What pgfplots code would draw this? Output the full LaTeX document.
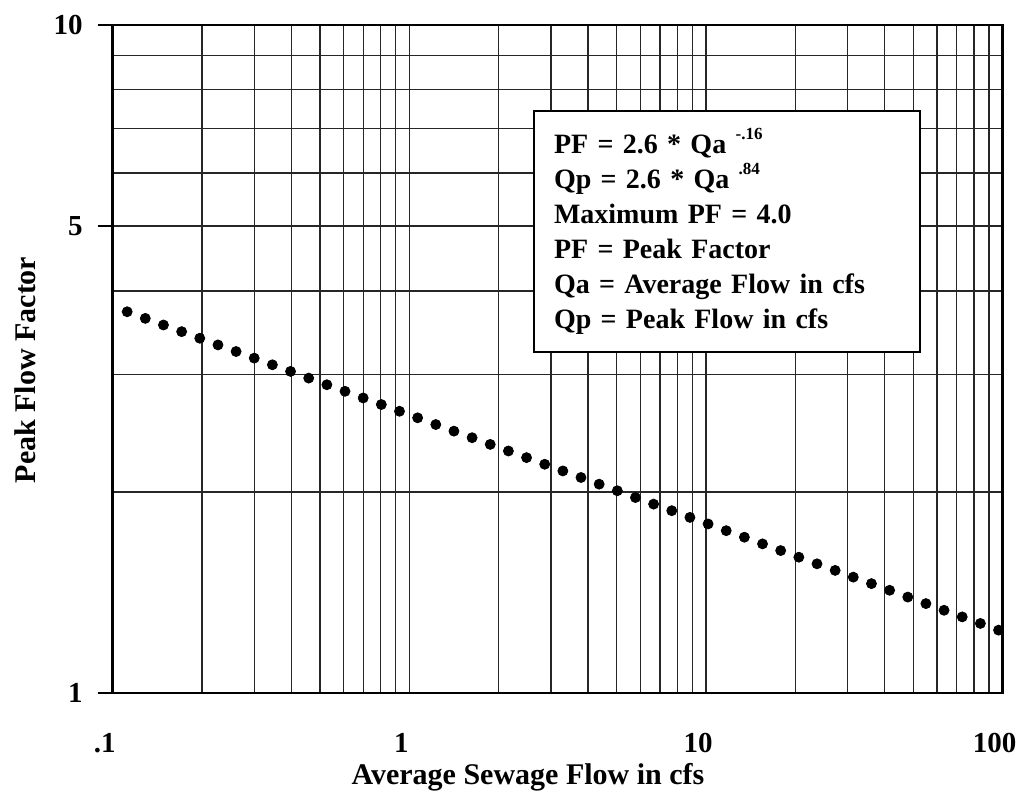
\documentclass[border=0pt]{standalone}
\usepackage{fontspec}
\setmainfont{Liberation Serif}
\usepackage{pgfplots}
\pgfplotsset{compat=1.18}

\begin{document}
\begin{tikzpicture}
\begin{axis}[
    at={(0pt,0pt)}, anchor=south west,
    scale only axis,
    width=445pt, height=334pt,
    xmode=log, ymode=log,
    xmin=0.1, xmax=100, ymin=1, ymax=10,
    xtick={0.1,1,10,100}, xticklabels={.1,1,10,100},
    ytick={1,5,10}, yticklabels={1,5,10},
    minor xtick={0.2,0.3,0.4,0.5,0.6,0.7,0.8,0.9,2,3,4,5,6,7,8,9,20,30,40,50,60,70,80,90},
    minor ytick={2,3,4,6,7,8,9},
    grid=both,
    major grid style={black!85, line width=0.7pt},
    minor grid style={black!85, line width=0.7pt},
    axis line style={line width=1.3pt},
    tick align=outside,
    ytick pos=left,
    major tick length=7.5pt, minor tick length=0pt,
    xtick style={draw=none},
    ytick style={line width=1.2pt, black},
    /pgf/number format/assume math mode=true,
    ticklabel style={font=\fontsize{14.5}{14.5}\selectfont\bfseries},
    xticklabel style={yshift=-9pt, xshift=-4pt},
    yticklabel style={xshift=-4pt},
]
\addplot[only marks, mark=*, mark size=2.5pt, black] coordinates {
(0.1119,3.722) (0.1288,3.638) (0.1483,3.556) (0.1708,3.475) (0.1966,3.397)
(0.2264,3.320) (0.2606,3.245) (0.3000,3.172) (0.3454,3.100) (0.3977,3.030)
(0.4579,2.961) (0.5272,2.894) (0.6069,2.829) (0.6988,2.765) (0.8045,2.703)
(0.9262,2.641) (1.0664,2.582) (1.2277,2.523) (1.4135,2.466) (1.6274,2.411)
(1.8736,2.356) (2.1571,2.303) (2.4835,2.251) (2.8592,2.200) (3.2918,2.150)
(3.7899,2.102) (4.3633,2.054) (5.0235,2.008) (5.7835,1.962) (6.6586,1.918)
(7.6661,1.875) (8.8260,1.832) (10.161,1.791) (11.699,1.750) (13.469,1.711)
(15.507,1.672) (17.853,1.634) (20.554,1.597) (23.664,1.561) (27.245,1.526)
(31.367,1.491) (36.113,1.458) (41.577,1.425) (47.868,1.392) (55.111,1.361)
(63.449,1.330) (73.049,1.300) (84.102,1.271) (96.830,1.242)
};
\end{axis}
\node[draw, line width=1pt, fill=white, anchor=north west,
      minimum width=193pt, minimum height=120.5pt,
      text width=173pt, inner xsep=10pt, align=left,
      font=\fontsize{14}{17.5}\selectfont\bfseries]
  at (210.15pt,291.5pt) {%
  PF = 2.6 * Qa \raisebox{7pt}{\fontsize{8.5}{8.5}\selectfont -.16}\\
  Qp = 2.6 * Qa \raisebox{7pt}{\fontsize{8.5}{8.5}\selectfont .84}\\
  Maximum PF = 4.0\\
  PF = Peak Factor\\
  Qa = Average Flow in cfs\\
  Qp = Peak Flow in cfs};
\node[font=\fontsize{15}{15}\selectfont\bfseries] at (207.65pt,-42pt) {Average Sewage Flow in cfs};
\node[rotate=90, font=\fontsize{15}{15}\selectfont\bfseries] at (-43.85pt,161.5pt) {Peak Flow Factor};
\pgfresetboundingbox
\path[use as bounding box] (-56.35pt,-50.5pt) rectangle (455.65pt,346.5pt);
\end{tikzpicture}
\end{document}
